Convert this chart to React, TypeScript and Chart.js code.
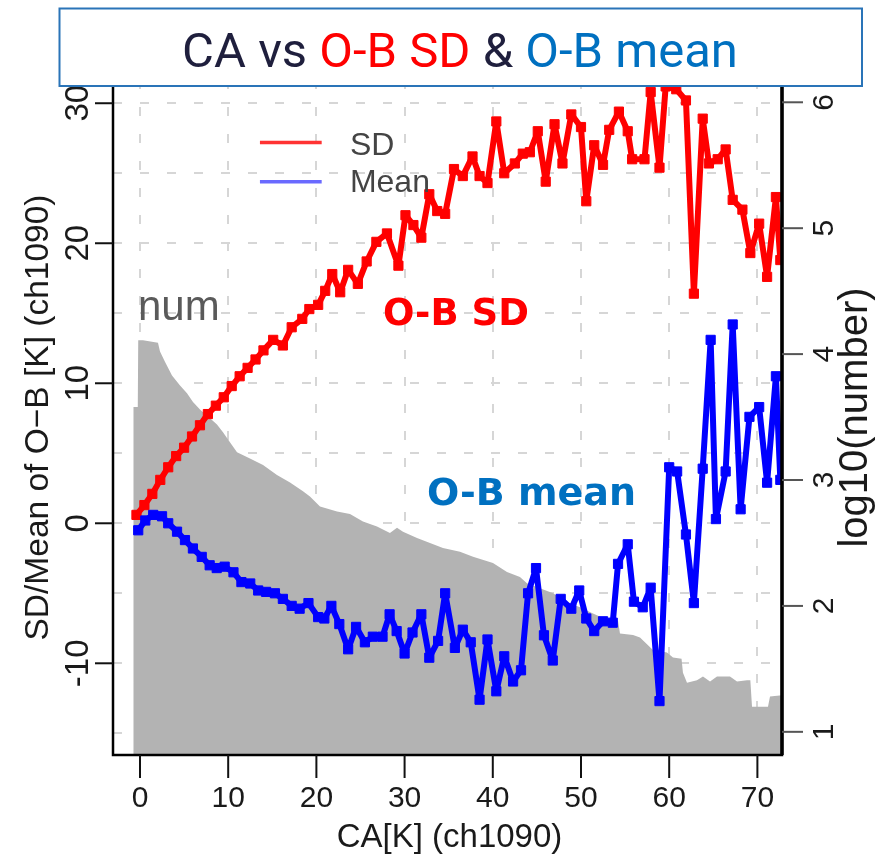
import React, { useEffect, useRef } from 'react';
import { Chart, registerables } from 'chart.js';

Chart.register(...registerables);

// ---- data ----
const sdX = [-0.4, 0.5, 1.4, 2.3, 3.2, 4.1, 5.0, 5.9, 6.8, 7.7, 8.6, 9.5, 10.4, 11.3, 12.2, 13.1, 14.0, 15.1, 16.2, 17.2, 18.4, 19.2, 20.2, 21.0, 21.8, 22.7, 23.6, 24.7, 25.7, 26.8, 28.0, 29.3, 30.1, 31.0, 31.9, 32.8, 33.7, 34.6, 35.6, 36.6, 37.7, 38.5, 39.4, 40.4, 41.3, 42.5, 43.4, 44.2, 45.1, 46.0, 47.0, 47.9, 48.9, 50.0, 50.6, 51.5, 52.5, 53.2, 54.3, 55.3, 55.8, 57.2, 57.9, 58.9, 59.6, 60.8, 61.9, 62.8, 63.8, 64.5, 65.5, 66.4, 67.2, 68.3, 69.2, 70.2, 71.1, 72.1, 72.6];
const sdY = [0.6, 1.3, 2.1, 3.1, 4.0, 4.8, 5.4, 6.2, 7.0, 7.8, 8.4, 9.0, 9.8, 10.5, 11.1, 11.7, 12.35, 13.1, 12.7, 14.0, 14.6, 15.3, 15.6, 16.6, 17.8, 16.5, 18.1, 17.1, 18.7, 20.1, 20.7, 18.4, 22.0, 21.3, 20.4, 23.5, 22.3, 22.1, 25.3, 24.8, 26.2, 24.8, 24.3, 28.7, 25.0, 25.7, 26.4, 26.5, 28.0, 24.4, 28.5, 25.7, 29.2, 28.3, 23.0, 27.0, 25.6, 28.1, 29.4, 28.0, 26.0, 26.0, 30.8, 25.4, 31.2, 31.0, 30.2, 16.4, 28.9, 25.7, 26.0, 26.7, 23.1, 22.4, 19.3, 21.4, 17.6, 23.3, 18.8];

const meanX = [-0.2, 0.6, 1.5, 2.5, 3.2, 4.2, 5.1, 6.0, 7.0, 7.9, 8.7, 9.6, 10.6, 11.5, 12.5, 13.4, 14.3, 15.3, 16.2, 17.2, 18.1, 19.1, 20.2, 20.9, 21.7, 22.6, 23.6, 24.5, 25.5, 26.4, 27.5, 28.3, 29.1, 30.0, 30.9, 31.9, 32.8, 33.8, 34.6, 35.7, 36.6, 37.5, 38.5, 39.4, 40.4, 41.3, 42.3, 43.2, 44.0, 44.9, 45.8, 46.8, 47.7, 48.9, 49.8, 50.6, 51.5, 52.5, 53.6, 54.2, 55.3, 56.0, 57.0, 57.9, 58.9, 60.0, 60.9, 61.9, 62.8, 63.8, 64.7, 65.3, 66.4, 67.2, 68.1, 69.1, 70.2, 71.1, 72.1, 72.6];
const meanY = [-0.5, 0.2, 0.6, 0.5, 0.0, -0.6, -1.2, -1.8, -2.4, -3.0, -3.2, -3.1, -3.5, -4.2, -4.3, -4.8, -4.9, -5.0, -5.4, -5.9, -6.1, -5.7, -6.7, -6.8, -5.9, -7.2, -9.0, -7.4, -8.5, -8.1, -8.1, -6.5, -7.7, -9.3, -7.8, -6.5, -9.6, -8.4, -5.0, -8.9, -7.6, -8.5, -12.6, -8.3, -12.0, -9.5, -11.3, -10.5, -5.0, -3.2, -8.0, -9.8, -5.4, -6.1, -4.8, -6.8, -7.7, -7.0, -7.1, -2.9, -1.5, -5.6, -6.0, -4.6, -12.7, 4.0, 3.7, -0.8, -5.7, 3.9, 13.1, 0.3, 3.7, 14.2, 1.0, 7.6, 8.3, 2.9, 10.5, 3.1];

const numX = [-0.76, -0.25, -0.2, 0.34, 2.04, 2.27, 2.83, 3.63, 4.54, 5.33, 6.01, 6.80, 7.94, 8.73, 9.41, 10.20, 11.00, 12.47, 13.95, 15.53, 17.01, 18.48, 19.27, 20.41, 22.34, 23.81, 25.28, 26.87, 28.34, 29.14, 29.82, 31.41, 32.88, 34.35, 36.28, 37.76, 40.02, 41.61, 43.08, 43.88, 45.35, 46.83, 48.41, 49.89, 51.36, 52.95, 54.2, 54.42, 55.90, 56.69, 58.16, 59.75, 60.43, 61.4, 61.56, 62.02, 63.15, 63.83, 64.63, 65.42, 66.89, 67.69, 68.82, 69.2, 69.39, 70.86, 71.2, 71.43, 72.79];
const numLog = [3.58, 3.58, 4.11, 4.11, 4.09, 4.02, 3.94, 3.83, 3.75, 3.69, 3.62, 3.56, 3.49, 3.44, 3.38, 3.30, 3.22, 3.17, 3.12, 3.04, 2.98, 2.91, 2.87, 2.79, 2.75, 2.73, 2.67, 2.63, 2.58, 2.62, 2.59, 2.54, 2.50, 2.46, 2.43, 2.39, 2.34, 2.27, 2.23, 2.18, 2.14, 2.10, 2.03, 1.99, 1.94, 1.89, 1.88, 1.78, 1.77, 1.75, 1.65, 1.63, 1.59, 1.58, 1.47, 1.39, 1.41, 1.44, 1.40, 1.44, 1.44, 1.40, 1.41, 1.41, 1.20, 1.20, 1.20, 1.28, 1.29];

const xTicks = [0, 10, 20, 30, 40, 50, 60, 70];
const leftTicks = [-10, 0, 10, 20, 30];
const rightTicks = [1, 2, 3, 4, 5, 6];
const leftTickLabels = ['-10', '0', '10', '20', '30'];

const titleParts = [
  { text: 'CA vs ', color: '#1f1f3d' },
  { text: 'O-B SD', color: '#ff0000' },
  { text: ' & ', color: '#1f1f3d' },
  { text: 'O-B mean', color: '#0070c0' },
];

const xTitle = 'CA[K] (ch1090)';
const yTitle = 'SD/Mean of O\u2212B [K] (ch1090)';
const y2Title = 'log10(number)';

const toPoints = (xs: number[], ys: number[]) =>
  xs.slice(0, Math.min(xs.length, ys.length)).map((x, i) => ({ x, y: ys[i] }));

const RFONT = '"Liberation Sans", Arial, Helvetica, sans-serif';

function rotText(ctx: CanvasRenderingContext2D, text: string, x: number, y: number, font: string, color: string) {
  ctx.save();
  ctx.translate(x, y);
  ctx.rotate(-Math.PI / 2);
  ctx.font = font;
  ctx.fillStyle = color;
  ctx.textAlign = 'center';
  ctx.textBaseline = 'alphabetic';
  ctx.fillText(text, 0, 0);
  ctx.restore();
}

const decor = {
  id: 'decor',
  afterDatasetsDraw(chart: any) {
    const { ctx, chartArea: a, scales } = chart;
    const xs = scales.x;
    const ys = scales.y;
    const y2 = scales.y2;
    ctx.save();

    // frame
    ctx.strokeStyle = '#000';
    ctx.lineWidth = 2.5;
    ctx.strokeRect(a.left, a.top, a.right - a.left, a.bottom - a.top);
    ctx.lineWidth = 3.5;
    ctx.beginPath();
    ctx.moveTo(a.right, a.top);
    ctx.lineTo(a.right, a.bottom);
    ctx.stroke();

    // bottom axis
    ctx.lineWidth = 2;
    ctx.strokeStyle = '#111';
    ctx.fillStyle = '#1a1a1a';
    ctx.font = `30px ${RFONT}`;
    ctx.textAlign = 'center';
    ctx.textBaseline = 'alphabetic';
    xTicks.forEach((v) => {
      const px = xs.getPixelForValue(v);
      ctx.beginPath();
      ctx.moveTo(px, a.bottom);
      ctx.lineTo(px, a.bottom + 23);
      ctx.stroke();
      ctx.fillText(String(v), px, a.bottom + 52);
    });
    ctx.font = `33px ${RFONT}`;
    ctx.fillText(xTitle, (a.left + a.right) / 2 + 2, a.bottom + 92);

    // left axis
    leftTicks.forEach((v, i) => {
      const py = ys.getPixelForValue(v);
      ctx.strokeStyle = '#111';
      ctx.beginPath();
      ctx.moveTo(a.left - 18, py);
      ctx.lineTo(a.left, py);
      ctx.stroke();
      rotText(ctx, leftTickLabels[i], a.left - 25, py, `33px ${RFONT}`, '#1a1a1a');
    });
    rotText(ctx, yTitle, a.left - 65.5, (a.top + a.bottom) / 2, `33.5px ${RFONT}`, '#1a1a1a');

    // right axis
    rightTicks.forEach((v) => {
      const py = y2.getPixelForValue(v);
      ctx.strokeStyle = '#555';
      ctx.beginPath();
      ctx.moveTo(a.right, py);
      ctx.lineTo(a.right + 21, py);
      ctx.stroke();
      rotText(ctx, String(v), a.right + 51, py, `30px ${RFONT}`, '#1a1a1a');
    });
    rotText(ctx, y2Title, a.right + 85, (a.top + a.bottom) / 2, `40px ${RFONT}`, '#1a1a1a');

    // annotations (anchored in data units)
    ctx.textAlign = 'left';
    ctx.font = `42px ${RFONT}`;
    ctx.fillStyle = '#5a5a5a';
    ctx.fillText('num', xs.getPixelForValue(-0.23), ys.getPixelForValue(14.49));

    ctx.font = `bold 37px "DejaVu Sans", Verdana, sans-serif`;
    ctx.fillStyle = '#ff0000';
    ctx.fillText('O-B SD', xs.getPixelForValue(27.55), ys.getPixelForValue(14.13));

    ctx.font = `bold 38px "DejaVu Sans", Verdana, sans-serif`;
    ctx.fillStyle = '#0070c0';
    ctx.fillText('O-B mean', xs.getPixelForValue(32.54), ys.getPixelForValue(1.28));

    // legend
    const lx1 = xs.getPixelForValue(13.6);
    const lx2 = xs.getPixelForValue(20.6);
    ctx.lineWidth = 3.5;
    ctx.strokeStyle = '#ff3333';
    ctx.beginPath();
    ctx.moveTo(lx1, ys.getPixelForValue(27.2));
    ctx.lineTo(lx2, ys.getPixelForValue(27.2));
    ctx.stroke();
    ctx.strokeStyle = '#6a6aff';
    ctx.beginPath();
    ctx.moveTo(lx1, ys.getPixelForValue(24.4));
    ctx.lineTo(lx2, ys.getPixelForValue(24.4));
    ctx.stroke();
    ctx.font = `32px ${RFONT}`;
    ctx.fillStyle = '#444';
    ctx.fillText('SD', xs.getPixelForValue(23.8), ys.getPixelForValue(26.3));
    ctx.fillText('Mean', xs.getPixelForValue(23.8), ys.getPixelForValue(23.66));

    ctx.restore();
  },
  afterDraw(chart: any) {
    const { ctx } = chart;
    ctx.save();
    // title box
    ctx.fillStyle = '#ffffff';
    ctx.fillRect(59.5, 8.5, 802.5, 77.5);
    ctx.strokeStyle = '#2a74b8';
    ctx.lineWidth = 2;
    ctx.strokeRect(59.5, 8.5, 802.5, 77.5);
    ctx.font = `49px Roboto, "Liberation Sans", sans-serif`;
    ctx.textBaseline = 'alphabetic';
    ctx.textAlign = 'left';
    const total = titleParts.reduce((s, p) => s + ctx.measureText(p.text).width, 0);
    let x = 460 - total / 2;
    titleParts.forEach((p) => {
      ctx.fillStyle = p.color;
      ctx.fillText(p.text, x, 67);
      x += ctx.measureText(p.text).width;
    });
    ctx.restore();
  },
};

export default function App() {
  const ref = useRef<HTMLCanvasElement>(null);
  useEffect(() => {
    if (!ref.current) return;
    const gridCommon = {
      color: '#d6d6d6',
      lineWidth: 2,
      drawTicks: false,
    };
    const lineStyle = {
      borderWidth: 6,
      pointStyle: 'rect',
      pointRadius: 6.5,
      pointBorderWidth: 1,
      borderJoinStyle: 'round',
      borderCapStyle: 'round',
      tension: 0,
      clip: 0,
    };
    const chart = new Chart(ref.current, {
      type: 'line',
      data: {
        datasets: [
          {
            label: 'Mean',
            data: toPoints(meanX, meanY),
            yAxisID: 'y',
            borderColor: '#0000ff',
            backgroundColor: '#0000ff',
            pointBackgroundColor: '#0000ff',
            pointBorderColor: '#0000ff',
            ...lineStyle,
            order: 1,
          },
          {
            label: 'SD',
            data: toPoints(sdX, sdY),
            yAxisID: 'y',
            borderColor: '#ff0000',
            backgroundColor: '#ff0000',
            pointBackgroundColor: '#ff0000',
            pointBorderColor: '#ff0000',
            ...lineStyle,
            order: 2,
          },
          {
            label: 'num',
            data: toPoints(numX, numLog),
            yAxisID: 'y2',
            borderWidth: 0,
            borderColor: 'rgba(0,0,0,0)',
            backgroundColor: '#b3b3b3',
            pointRadius: 0,
            fill: 'start',
            tension: 0,
            order: 3,
            clip: 0,
          },
        ],
      },
      options: {
        responsive: false,
        animation: false,
        devicePixelRatio: 1,
        layout: { padding: { left: 113, right: 106, top: 80, bottom: 101 } },
        plugins: {
          legend: { display: false },
          tooltip: { enabled: false },
          title: { display: false },
        },
        scales: {
          x: {
            type: 'linear',
            min: -3.06,
            max: 72.79,
            ticks: { display: false, stepSize: 10, includeBounds: false },
            grid: gridCommon,
            border: { display: false, dash: [9, 18] },
          },
          y: {
            type: 'linear',
            position: 'left',
            min: -16.55,
            max: 31.66,
            ticks: { display: false, stepSize: 5, includeBounds: false },
            grid: gridCommon,
            border: { display: false, dash: [9, 18] },
          },
          y2: {
            type: 'linear',
            position: 'right',
            min: 0.816,
            max: 6.177,
            display: false,
          },
        },
      },
      plugins: [decor],
    } as any);
    return () => chart.destroy();
  }, []);
  return (
    <div style={{ position: 'absolute', left: 0, top: 0, width: 888, height: 856, background: '#ffffff' }}>
      <canvas ref={ref} width={888} height={856} style={{ display: 'block', width: 888, height: 856 }} />
    </div>
  );
}
